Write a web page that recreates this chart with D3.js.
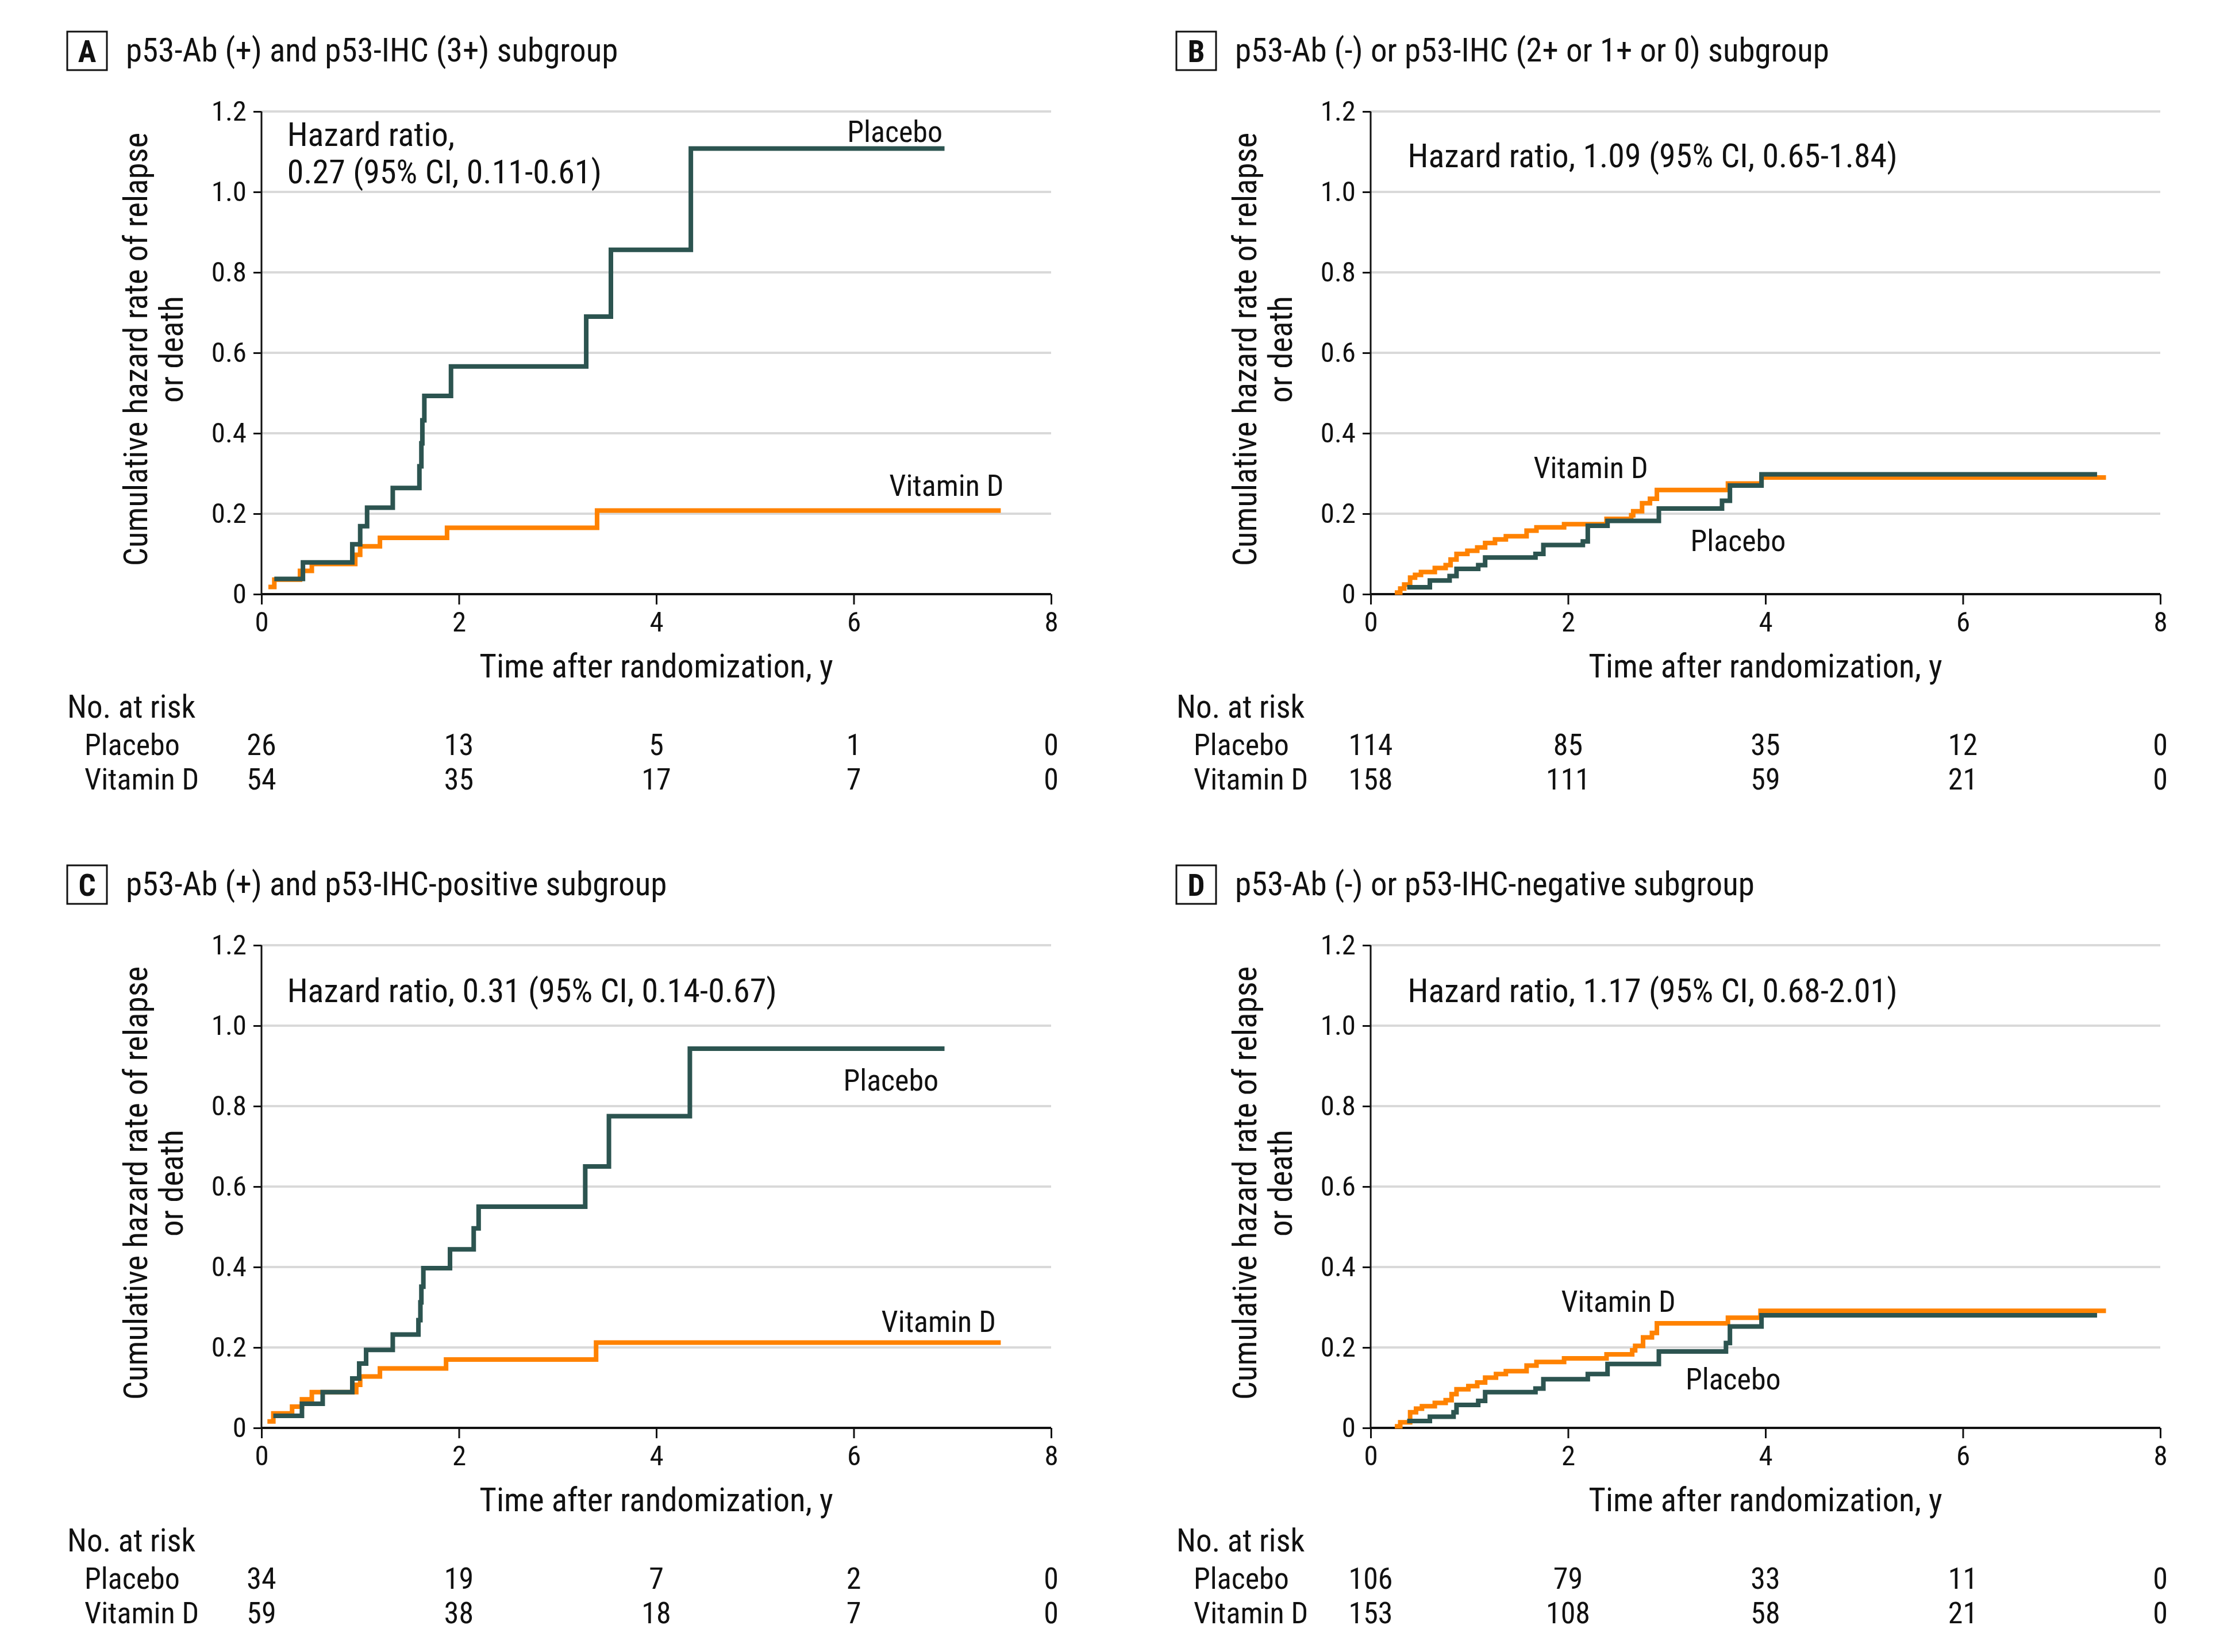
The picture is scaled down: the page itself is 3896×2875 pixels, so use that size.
<!DOCTYPE html>
<html>
<head>
<meta charset="utf-8">
<script src="https://cdn.jsdelivr.net/npm/d3@7"></script>
<style>
  body { margin: 0; background: #fff; }
  text { font-family: "Liberation Sans Narrow", "Roboto Condensed", "Liberation Sans", sans-serif; fill: #111; }
</style>
</head>
<body>
<div id="viz"></div>
<script>
// cumulative hazard step data, [time in years, cumulative hazard]
const placeboA = [[0.13,0.038],[0.42,0.079],[0.92,0.124],[1.00,0.169],[1.07,0.215],[1.33,0.264],[1.60,0.318],[1.62,0.375],[1.63,0.432],[1.65,0.493],[1.92,0.566],[3.29,0.690],[3.54,0.856],[4.35,1.108],[6.92,1.108]];
const vitaminA = [[0.07,0.018],[0.13,0.036],[0.39,0.058],[0.51,0.075],[0.95,0.098],[1.00,0.119],[1.20,0.140],[1.88,0.165],[3.40,0.208],[7.49,0.208]];

const placeboB = [[0.37,0.017],[0.60,0.034],[0.80,0.045],[0.87,0.063],[1.09,0.072],[1.16,0.091],[1.67,0.100],[1.75,0.122],[2.15,0.131],[2.20,0.170],[2.40,0.182],[2.92,0.213],[3.56,0.232],[3.64,0.270],[3.96,0.298],[7.36,0.298]];
const vitaminB = [[0.245,0.004],[0.30,0.014],[0.34,0.024],[0.40,0.041],[0.45,0.048],[0.51,0.055],[0.65,0.065],[0.76,0.072],[0.81,0.086],[0.87,0.100],[0.98,0.108],[1.08,0.116],[1.16,0.127],[1.26,0.136],[1.37,0.144],[1.58,0.158],[1.68,0.166],[1.96,0.174],[2.39,0.187],[2.64,0.196],[2.66,0.206],[2.75,0.226],[2.83,0.237],[2.90,0.259],[3.62,0.275],[3.96,0.290],[7.45,0.290]];

const placeboC = [[0.12,0.030],[0.41,0.060],[0.62,0.089],[0.92,0.123],[0.99,0.160],[1.06,0.194],[1.33,0.232],[1.59,0.268],[1.61,0.312],[1.62,0.351],[1.64,0.397],[1.91,0.444],[2.15,0.496],[2.20,0.550],[3.28,0.650],[3.52,0.775],[4.34,0.943],[6.92,0.943]];
const vitaminC = [[0.06,0.016],[0.12,0.036],[0.31,0.053],[0.41,0.071],[0.51,0.089],[0.96,0.107],[1.00,0.128],[1.20,0.148],[1.87,0.170],[3.39,0.212],[7.49,0.212]];

const placeboD = [[0.37,0.017],[0.60,0.028],[0.84,0.039],[0.87,0.057],[1.09,0.067],[1.16,0.089],[1.67,0.098],[1.75,0.121],[2.20,0.134],[2.40,0.159],[2.92,0.190],[3.60,0.211],[3.64,0.252],[3.96,0.280],[7.36,0.280]];
const vitaminD = [[0.245,0.004],[0.30,0.014],[0.40,0.039],[0.46,0.048],[0.52,0.054],[0.65,0.062],[0.76,0.069],[0.82,0.084],[0.87,0.096],[0.99,0.104],[1.08,0.113],[1.16,0.125],[1.27,0.134],[1.37,0.141],[1.58,0.155],[1.68,0.164],[1.96,0.173],[2.39,0.183],[2.65,0.193],[2.68,0.204],[2.76,0.225],[2.85,0.236],[2.90,0.260],[3.62,0.274],[3.95,0.291],[7.45,0.291]];

// numbers at risk at 0, 2, 4, 6, 8 years
const riskTimes = [0, 2, 4, 6, 8];
const riskPlaceboA = [26, 13, 5, 1, 0];
const riskVitaminA = [54, 35, 17, 7, 0];
const riskPlaceboB = [114, 85, 35, 12, 0];
const riskVitaminB = [158, 111, 59, 21, 0];
const riskPlaceboC = [34, 19, 7, 2, 0];
const riskVitaminC = [59, 38, 18, 7, 0];
const riskPlaceboD = [106, 79, 33, 11, 0];
const riskVitaminD = [153, 108, 58, 21, 0];

const panelLetters = ["A", "B", "C", "D"];
const panelTitles = [
  "p53-Ab (+) and p53-IHC (3+) subgroup",
  "p53-Ab (-) or p53-IHC (2+ or 1+ or 0) subgroup",
  "p53-Ab (+) and p53-IHC-positive subgroup",
  "p53-Ab (-) or p53-IHC-negative subgroup"
];
const hazardTexts = [
  ["Hazard ratio,", "0.27 (95% CI, 0.11-0.61)"],
  ["Hazard ratio, 1.09 (95% CI, 0.65-1.84)"],
  ["Hazard ratio, 0.31 (95% CI, 0.14-0.67)"],
  ["Hazard ratio, 1.17 (95% CI, 0.68-2.01)"]
];
const xTicks = [0, 2, 4, 6, 8];
const yTicks = [0, 0.2, 0.4, 0.6, 0.8, 1.0, 1.2];

const placeboColor = "#2c5450";
const vitaminColor = "#ff8200";

const W = 3896, H = 2875;
const plotW = 1374, plotH = 840;
const fsTitle = 57, fsLabel = 52, fsTick = 49;

const svg = d3.select("#viz").append("svg")
  .attr("width", W)
  .attr("height", H);
svg.append("rect").attr("width", W).attr("height", H).attr("fill", "#fff");

const panels = [
  { left: 455, top: 194, placebo: placeboA, vitamin: vitaminA, rp: riskPlaceboA, rv: riskVitaminA,
    labels: [{ text: "Placebo", t: 6.90, v: 1.125, anchor: "end" }, { text: "Vitamin D", t: 7.52, v: 0.245, anchor: "end" }],
    hr: { t: 0.26, v: [1.115, 1.022] } },
  { left: 2385, top: 194, placebo: placeboB, vitamin: vitaminB, rp: riskPlaceboB, rv: riskVitaminB,
    labels: [{ text: "Vitamin D", t: 1.65, v: 0.288, anchor: "start" }, { text: "Placebo", t: 3.24, v: 0.107, anchor: "start" }],
    hr: { t: 0.376, v: [1.061] } },
  { left: 455, top: 1645, placebo: placeboC, vitamin: vitaminC, rp: riskPlaceboC, rv: riskVitaminC,
    labels: [{ text: "Placebo", t: 6.86, v: 0.838, anchor: "end" }, { text: "Vitamin D", t: 7.44, v: 0.238, anchor: "end" }],
    hr: { t: 0.26, v: [1.058] } },
  { left: 2385, top: 1645, placebo: placeboD, vitamin: vitaminD, rp: riskPlaceboD, rv: riskVitaminD,
    labels: [{ text: "Vitamin D", t: 1.93, v: 0.288, anchor: "start" }, { text: "Placebo", t: 3.19, v: 0.096, anchor: "start" }],
    hr: { t: 0.376, v: [1.058] } }
];

panels.forEach((p, i) => {
  const g = svg.append("g").attr("transform", `translate(${p.left}, ${p.top})`);
  const x = d3.scaleLinear().domain([0, 8]).range([0, plotW]);
  const y = d3.scaleLinear().domain([0, 1.2]).range([plotH, 0]);

  // header: boxed letter + title
  g.append("rect")
    .attr("x", -338).attr("y", -139)
    .attr("width", 69).attr("height", 67)
    .attr("fill", "none").attr("stroke", "#111").attr("stroke-width", 3);
  g.append("text")
    .attr("x", -303.5).attr("y", -86)
    .attr("text-anchor", "middle")
    .attr("font-size", fsTitle - 4).attr("font-weight", "bold")
    .text(panelLetters[i]);
  g.append("text")
    .attr("x", -236).attr("y", -87)
    .attr("font-size", fsTitle)
    .text(panelTitles[i]);

  // gridlines
  g.append("g").selectAll("line")
    .data(yTicks.filter(d => d > 0))
    .enter().append("line")
    .attr("x1", 0).attr("x2", plotW)
    .attr("y1", d => y(d)).attr("y2", d => y(d))
    .attr("stroke", "#d9d9d9").attr("stroke-width", 4);

  // axes
  const yAxis = g.append("g")
    .call(d3.axisLeft(y).tickValues(yTicks).tickSize(14).tickPadding(12)
      .tickFormat(d => d === 0 ? "0" : d3.format(".1f")(d)));
  const xAxis = g.append("g")
    .attr("transform", `translate(0, ${plotH})`)
    .call(d3.axisBottom(x).tickValues(xTicks).tickSize(18).tickPadding(12).tickFormat(d3.format("d")));
  [yAxis, xAxis].forEach(a => {
    a.select(".domain").attr("stroke", "#111").attr("stroke-width", 3);
    a.selectAll(".tick line").attr("stroke", "#111").attr("stroke-width", 3);
    a.selectAll(".tick text").attr("font-size", fsTick).attr("fill", "#111")
      .style("font-family", '"Liberation Sans Narrow", "Roboto Condensed", sans-serif');
  });
  xAxis.select(".domain").attr("d", `M0,0H${plotW}`).attr("stroke-width", 4);
  yAxis.select(".domain").attr("d", `M0,0V${plotH}`);

  // axis titles
  g.append("text")
    .attr("transform", `translate(-219, ${plotH / 2 - 6}) rotate(-90)`)
    .attr("text-anchor", "middle").attr("dominant-baseline", "central")
    .attr("font-size", fsTitle)
    .text("Cumulative hazard rate of relapse");
  g.append("text")
    .attr("transform", `translate(-157, ${plotH / 2 - 6}) rotate(-90)`)
    .attr("text-anchor", "middle").attr("dominant-baseline", "central")
    .attr("font-size", fsTitle)
    .text("or death");
  g.append("text")
    .attr("x", plotW / 2).attr("y", plotH + 145)
    .attr("text-anchor", "middle")
    .attr("font-size", fsTitle)
    .text("Time after randomization, y");

  // step curves
  const line = d3.line()
    .x(d => x(d[0]))
    .y(d => y(d[1]))
    .curve(d3.curveStepAfter);
  g.append("path").datum(p.vitamin)
    .attr("d", line)
    .attr("fill", "none").attr("stroke", vitaminColor).attr("stroke-width", 8);
  g.append("path").datum(p.placebo)
    .attr("d", line)
    .attr("fill", "none").attr("stroke", placeboColor).attr("stroke-width", 8);

  // curve labels
  p.labels.forEach(l => {
    g.append("text")
      .attr("x", x(l.t)).attr("y", y(l.v))
      .attr("text-anchor", l.anchor)
      .attr("font-size", fsLabel)
      .text(l.text);
  });

  // hazard ratio text
  hazardTexts[i].forEach((t, k) => {
    g.append("text")
      .attr("x", x(p.hr.t)).attr("y", y(p.hr.v[k]))
      .attr("font-size", fsTitle + 1)
      .text(t);
  });

  // numbers at risk
  g.append("text")
    .attr("x", -338).attr("y", plotH + 215)
    .attr("font-size", 55)
    .text("No. at risk");
  const rows = [["Placebo", p.rp, 280], ["Vitamin D", p.rv, 340]];
  rows.forEach(([name, vals, dy]) => {
    g.append("text")
      .attr("x", -308).attr("y", plotH + dy)
      .attr("font-size", fsLabel)
      .text(name);
    g.selectAll(null)
      .data(vals)
      .enter().append("text")
      .attr("x", (d, j) => x(riskTimes[j]))
      .attr("y", plotH + dy)
      .attr("text-anchor", "middle")
      .attr("font-size", fsLabel)
      .text(d => d);
  });
});
</script>
</body>
</html>
